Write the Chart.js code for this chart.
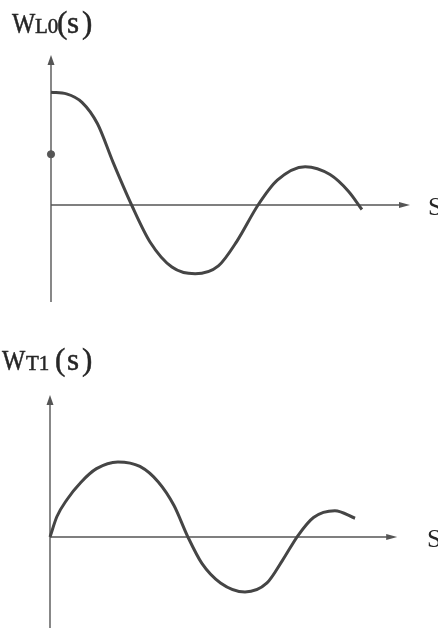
<!DOCTYPE html>
<html>
<head>
<meta charset="utf-8">
<script src="https://cdn.jsdelivr.net/npm/chart.js@4/dist/chart.umd.min.js"></script>
<style>
  html, body { margin: 0; padding: 0; background: #fff; }
  .wrap { position: relative; width: 438px; height: 628px; overflow: hidden; }
  canvas { position: absolute; left: 0; }
</style>
</head>
<body>
<div class="wrap">
  <canvas id="top" width="438" height="314" style="top:0"></canvas>
  <canvas id="bottom" width="438" height="314" style="top:314px"></canvas>
</div>
<script>
// W_L0(s): longitudinal wake function samples
const sL0 = [0, 0.5, 1.0, 1.5, 2.0, 2.6, 3.2, 3.9, 4.65, 5.4, 6.0, 6.68, 7.3, 8.2, 9.0, 9.6, 10.03];
const wL0 = [1.0, 0.985, 0.91, 0.72, 0.38, 0.0, -0.33, -0.55, -0.61, -0.54, -0.32, 0.0, 0.22, 0.34, 0.27, 0.12, -0.04];
// marked value on the vertical axis
const markS = [0];
const markW = [0.45];

// W_T1(s): transverse wake function samples
const sT1 = [0, 0.22, 0.55, 1.0, 1.5, 2.19, 2.9, 3.5, 4.0, 4.45, 4.9, 5.5, 6.29, 7.0, 7.5, 8.0, 8.5, 9.19, 9.84];
const wT1 = [0, 0.27, 0.5, 0.73, 0.91, 1.0, 0.94, 0.73, 0.42, 0.0, -0.35, -0.61, -0.73, -0.61, -0.31, 0.02, 0.26, 0.35, 0.25];

// axis extents (data units)
const topX = [0, 12];        // x scale range
const topY = [-0.86, 1.33];  // y scale range (bottom end, arrow tip)
const topArrowX = 11.58;
const botX = [0, 12];
const botY = [-1.21, 1.89];
const botArrowX = 11.2;

const axisLabel = 'S';
const topTitle = [['W', 30], ['L0', 21], ['(', 31], ['s', 31], [')', 31]];
const botTitle = [['W', 30], ['T1', 21], ['(', 31], ['s', 31], [')', 31]];

const INK = '#454545';
const AXIS = '#555';
const SERIF = '"Liberation Serif", "DejaVu Serif", serif';

function pts(xs, ys) { return xs.map((x, i) => ({ x: x, y: ys[i] })); }

// draws the arrowed axes, the axis letter and the composite title
function axesPlugin(arrowX, title, titleX, baseline, sLabelPos) {
  return {
    id: 'arrowAxes',
    beforeDatasetsDraw(chart) {
      const ctx = chart.ctx;
      const xs = chart.scales.x, ys = chart.scales.y;
      const x0 = xs.getPixelForValue(0);
      const y0 = ys.getPixelForValue(0);
      const yTop = ys.getPixelForValue(ys.max);
      const yBot = ys.getPixelForValue(ys.min);
      const xEnd = xs.getPixelForValue(arrowX);
      ctx.save();
      ctx.strokeStyle = AXIS;
      ctx.fillStyle = AXIS;
      ctx.lineWidth = 1.4;
      // vertical axis
      ctx.beginPath();
      ctx.moveTo(x0, yBot);
      ctx.lineTo(x0, yTop + 6);
      ctx.stroke();
      ctx.beginPath();
      ctx.moveTo(x0, yTop);
      ctx.lineTo(x0 - 3.5, yTop + 10);
      ctx.lineTo(x0 + 3.5, yTop + 10);
      ctx.closePath();
      ctx.fill();
      // horizontal axis
      ctx.beginPath();
      ctx.moveTo(x0, y0);
      ctx.lineTo(xEnd - 6, y0);
      ctx.stroke();
      ctx.beginPath();
      ctx.moveTo(xEnd, y0);
      ctx.lineTo(xEnd - 11, y0 - 3);
      ctx.lineTo(xEnd - 11, y0 + 3);
      ctx.closePath();
      ctx.fill();
      ctx.restore();
    },
    afterDraw(chart) {
      const ctx = chart.ctx;
      const ys = chart.scales.y;
      const y0 = ys.getPixelForValue(0);
      ctx.save();
      ctx.fillStyle = '#262626';
      ctx.strokeStyle = '#262626';
      ctx.lineWidth = 0.5;
      ctx.textBaseline = 'alphabetic';
      ctx.textAlign = 'left';
      // axis letter
      ctx.font = '26px ' + SERIF;
      ctx.fillText(axisLabel, sLabelPos, y0 + 10);
      // title pieces
      title.forEach((p, i) => {
        ctx.font = p[1] + 'px ' + SERIF;
        if (i === 0) {
          ctx.save();
          ctx.translate(titleX[i], baseline);
          ctx.scale(0.82, 1);
          ctx.fillText(p[0], 0, 0);
          ctx.strokeText(p[0], 0, 0);
          ctx.restore();
        } else {
          ctx.fillText(p[0], titleX[i], baseline);
          ctx.strokeText(p[0], titleX[i], baseline);
        }
      });
      ctx.restore();
    }
  };
}

function makeChart(id, curve, extra, xr, yr, pad, plugin) {
  const datasets = [{
    data: curve,
    borderColor: INK,
    borderWidth: 3,
    pointRadius: 0,
    cubicInterpolationMode: 'monotone',
    fill: false,
    clip: false
  }];
  if (extra) {
    datasets.push({
      data: extra,
      showLine: false,
      pointRadius: 3.6,
      pointBackgroundColor: '#555',
      pointBorderColor: '#555',
      clip: false
    });
  }
  return new Chart(document.getElementById(id), {
    type: 'line',
    data: { datasets: datasets },
    options: {
      responsive: false,
      animation: false,
      events: [],
      layout: { padding: pad },
      plugins: { legend: { display: false }, tooltip: { enabled: false } },
      scales: {
        x: { type: 'linear', min: xr[0], max: xr[1], display: false },
        y: { type: 'linear', min: yr[0], max: yr[1], display: false }
      }
    },
    plugins: [plugin]
  });
}

makeChart('top', pts(sL0, wL0), pts(markS, markW), topX, topY,
  { left: 51, right: 15, top: 55, bottom: 12 },
  axesPlugin(topArrowX, topTitle, [12, 35, 57, 67, 82], 33, 428));

makeChart('bottom', pts(sT1, wT1), null, botX, botY,
  { left: 50, right: 16, top: 81, bottom: 0 },
  axesPlugin(botArrowX, botTitle, [2, 26, 55, 67, 82], 56, 427));
</script>
</body>
</html>
